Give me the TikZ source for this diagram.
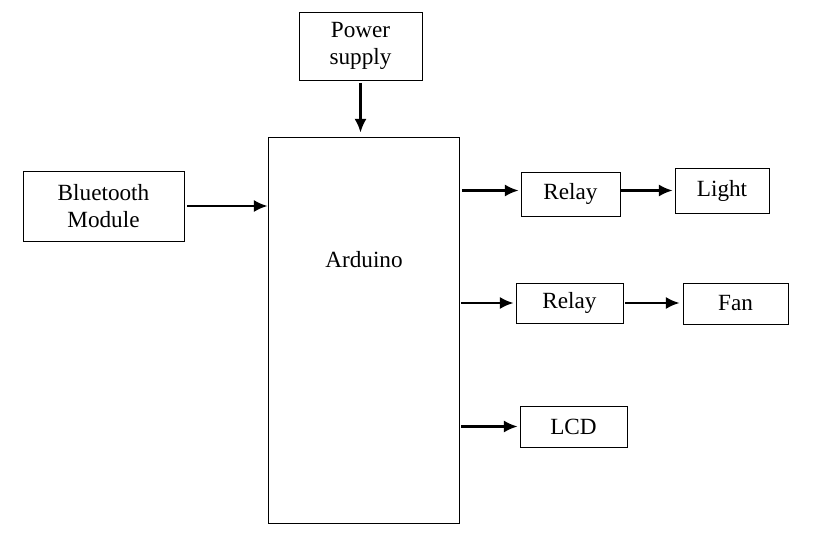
\documentclass[tikz,border=0pt]{standalone}
\usepackage{fontspec}
\setmainfont{Liberation Serif}
\usetikzlibrary{arrows.meta,positioning}

\begin{document}
\begin{tikzpicture}[x=0.025cm, y=-0.025cm,
      box/.style={draw, line width=0.6pt, inner sep=0pt,
                  font=\fontsize{16.5}{19}\selectfont, align=center},
      arr/.style={-{Latex[length=0.34cm, width=0.3cm]}, line width=1.6pt}
  ]
    \useasboundingbox (0,0) rectangle (826,559);
    \node[box, minimum width=3.075cm, minimum height=1.7cm] (pwr) at (360.5,46) {Power\\supply};
    \node[box, minimum width=4.775cm, minimum height=9.65cm] (ard) at (363.5,330) {};
    \node[font=\fontsize{16.5}{19}\selectfont] (ardtxt) at (364,260) {Arduino};
    \node[box, minimum width=4.025cm, minimum height=1.75cm] (bt) at (103.5,206) {Bluetooth\\Module};
    \node[box, minimum width=2.475cm, minimum height=1.1cm] (rly1) at (570.5,194) {Relay};
    \node[box, minimum width=2.35cm, minimum height=1.125cm] (light) at (722,190.5) {Light};
    \node[box, minimum width=2.675cm, minimum height=1cm] (rly2) at (569.5,303) {Relay};
    \node[box, minimum width=2.625cm, minimum height=1.025cm] (fan) at (735.5,303.5) {Fan};
    \node[box, minimum width=2.675cm, minimum height=1.025cm] (lcd) at (573.5,426.5) {LCD};
    \draw[arr, shorten <=0.06cm, shorten >=0.1cm] (pwr) -- (pwr |- ard.north);
    \draw[arr, shorten <=0.075cm] (bt) -- (bt -| ard.west);
    \draw[arr, shorten <=0.06cm, shorten >=0.05cm] (ard.east |- light.west) -- (rly1.west |- light.west);
    \draw[arr, shorten >=0.05cm] (rly1.east |- light.west) -- (light.west);
    \draw[arr, shorten <=0.05cm, shorten >=0.05cm] (ard.east |- rly2.west) -- (rly2.west);
    \draw[arr, shorten <=0.05cm, shorten >=0.075cm] (rly2.east) -- (rly2.east -| fan.west);
    \draw[arr, shorten <=0.05cm, shorten >=0.05cm] (ard.east |- lcd.west) -- (lcd.west);
  \end{tikzpicture}
\end{document}
